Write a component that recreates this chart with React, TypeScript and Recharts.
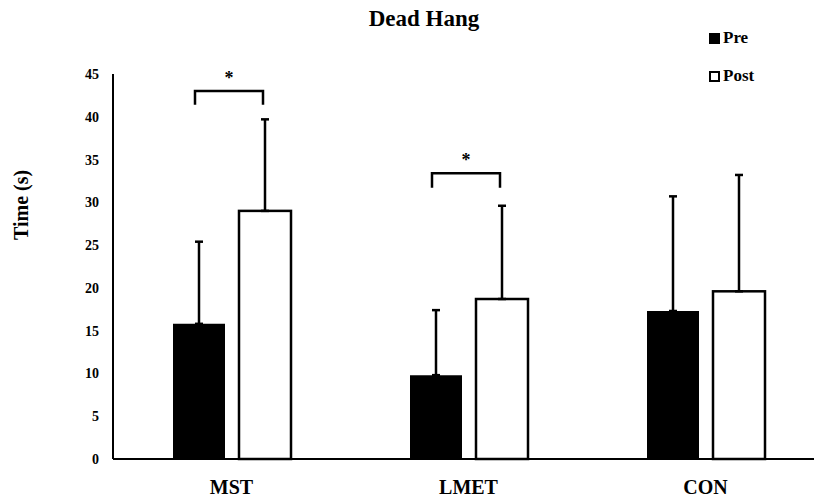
import { BarChart, Bar, XAxis, YAxis, ErrorBar } from "recharts";

const categories = ["MST", "LMET", "CON"];
const preMeans = [15.8, 9.8, 17.3];
const postMeans = [29.0, 18.7, 19.6];
const preSD = [9.6, 7.6, 13.4];
const postSD = [10.7, 10.9, 13.6];
const yTicks = [0, 5, 10, 15, 20, 25, 30, 35, 40, 45];
const seriesNames = ["Pre", "Post"];

// significance brackets (Pre vs Post)
const sigGroups = ["MST", "LMET"];
const bracketTop = [43.0, 33.4];
const bracketFoot = [41.4, 31.7];

const data = categories.map((cat, i) => ({
  cat,
  pre: preMeans[i],
  post: postMeans[i],
  preErr: [0, preSD[i]],
  postErr: [0, postSD[i]],
}));

const FONT = "'Liberation Serif', 'Times New Roman', serif";
const BAR_GAP = 14;

const PostBar = (props: any) => {
  const { x, y, width, height, payload } = props;
  const k = sigGroups.indexOf(payload.cat);
  let bracket = null;
  if (k >= 0) {
    const base = y + height;
    const ppu = height / payload.post;
    const top = base - bracketTop[k] * ppu;
    const foot = base - bracketFoot[k] * ppu;
    const x1 = x - BAR_GAP - width / 2 - 4;
    const x2 = x + width / 2 - 2;
    bracket = (
      <g>
        <path d={`M${x1},${foot}V${top}H${x2}V${foot}`} stroke="#000" strokeWidth={2.5} fill="none" />
        <text x={(x1 + x2) / 2} y={top - 7} textAnchor="middle" fontFamily={FONT} fontWeight="bold" fontSize={18} fill="#000">
          *
        </text>
      </g>
    );
  }
  return (
    <g>
      <rect x={x} y={y} width={width} height={height} fill="#fff" stroke="#000" strokeWidth={2.5} />
      {bracket}
    </g>
  );
};

export default function App() {
  return (
    <div style={{ position: "absolute", left: 0, top: 0, width: 814, height: 500, overflow: "hidden", background: "#fff" }}>
      <div
        style={{
          position: "absolute",
          top: 6,
          left: 324,
          width: 200,
          textAlign: "center",
          fontFamily: FONT,
          fontWeight: "bold",
          fontSize: 23,
        }}
      >
        Dead Hang
      </div>
      <div
        style={{
          position: "absolute",
          top: 19,
          left: 709,
          fontFamily: FONT,
          fontWeight: "bold",
          fontSize: 17,
        }}
      >
        {seriesNames.map((name, i) => (
          <div key={name} style={{ display: "flex", alignItems: "center", height: 38 }}>
            <span
              style={{
                display: "inline-block",
                width: 7,
                height: 7,
                marginRight: 3,
                background: i === 0 ? "#000" : "#fff",
                border: "2px solid #000",
              }}
            />
            <span>{name}</span>
          </div>
        ))}
      </div>
      <BarChart
        width={828}
        height={500}
        data={data}
        margin={{ top: 74, right: 4, left: 0, bottom: 0 }}
        barSize={52}
        barGap={BAR_GAP}
      >
        <XAxis
          dataKey="cat"
          height={41}
          axisLine={{ stroke: "#000", strokeWidth: 2 }}
          tickLine={false}
          tickSize={0}
          tickMargin={21}
          tick={{ fill: "#000", fontFamily: FONT, fontWeight: "bold", fontSize: 20 }}
        />
        <YAxis
          width={113}
          domain={[0, 45]}
          ticks={yTicks}
          interval={0}
          axisLine={{ stroke: "#000", strokeWidth: 2 }}
          tickLine={false}
          tickSize={0}
          tickMargin={14}
          tick={{ fill: "#000", fontFamily: FONT, fontWeight: "bold", fontSize: 14 }}
          label={{
            content: ({ viewBox }: any) => {
              const cx = 21;
              const cy = viewBox.y + viewBox.height * 0.34;
              return (
                <text
                  x={cx}
                  y={cy}
                  transform={`rotate(-90 ${cx} ${cy})`}
                  textAnchor="middle"
                  dominantBaseline="central"
                  fontFamily={FONT}
                  fontWeight="bold"
                  fontSize={20}
                  fill="#000"
                >
                  Time (s)
                </text>
              );
            },
          }}
        />
        <Bar dataKey="pre" name={seriesNames[0]} fill="#000" isAnimationActive={false}>
          <ErrorBar dataKey="preErr" direction="y" width={4} stroke="#000" strokeWidth={2.5} isAnimationActive={false} />
        </Bar>
        <Bar dataKey="post" name={seriesNames[1]} shape={PostBar} isAnimationActive={false}>
          <ErrorBar dataKey="postErr" direction="y" width={4} stroke="#000" strokeWidth={2.5} isAnimationActive={false} />
        </Bar>
      </BarChart>
    </div>
  );
}
